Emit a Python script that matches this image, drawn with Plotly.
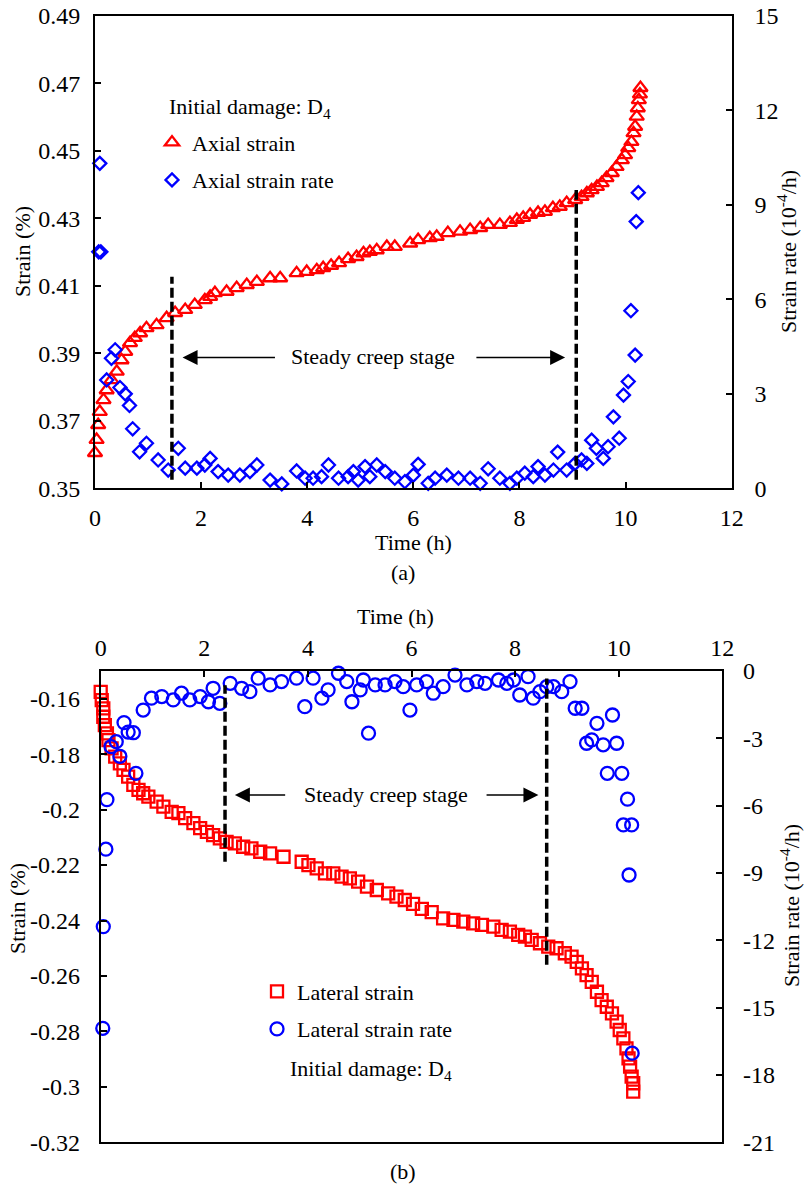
import plotly.graph_objects as go

W, H = 804, 1186
FONT = "Liberation Serif, Times New Roman, serif"

# ---------------- (a) axial creep ----------------
axial_time = [0.00, 0.03, 0.06, 0.09, 0.16, 0.22, 0.31, 0.41, 0.50, 0.57, 0.66, 0.75,
              0.85, 0.97, 1.16, 1.35, 1.51, 1.70, 1.88, 2.07, 2.17, 2.26, 2.48, 2.67,
              2.86, 3.05, 3.30, 3.49, 3.80, 3.99, 4.18, 4.30, 4.45, 4.60, 4.77, 4.93,
              5.06, 5.18, 5.31, 5.50, 5.65, 5.94, 6.09, 6.31, 6.44, 6.65, 6.88, 7.07,
              7.26, 7.41, 7.63, 7.82, 7.95, 8.07, 8.20, 8.35, 8.48, 8.63, 8.76, 8.89,
              9.05, 9.17, 9.27, 9.36, 9.46, 9.55, 9.64, 9.74, 9.83, 9.93, 9.99, 10.05,
              10.11, 10.15, 10.18, 10.21, 10.23, 10.25, 10.27, 10.28]
axial_strain = [0.3605, 0.3644, 0.3688, 0.3727, 0.3762, 0.3791, 0.3821, 0.3846, 0.3880,
                0.3905, 0.3931, 0.3946, 0.3960, 0.3975, 0.3984, 0.4005, 0.4020, 0.4029,
                0.4044, 0.4058, 0.4068, 0.4079, 0.4083, 0.4094, 0.4103, 0.4112, 0.4123,
                0.4123, 0.4138, 0.4142, 0.4147, 0.4153, 0.4160, 0.4168, 0.4180, 0.4186,
                0.4197, 0.4201, 0.4206, 0.4216, 0.4216, 0.4226, 0.4236, 0.4242, 0.4246,
                0.4257, 0.4261, 0.4266, 0.4272, 0.4281, 0.4281, 0.4287, 0.4296, 0.4302,
                0.4311, 0.4317, 0.4320, 0.4331, 0.4335, 0.4346, 0.4355, 0.4364, 0.4375,
                0.4384, 0.4394, 0.4405, 0.4420, 0.4435, 0.4453, 0.4473, 0.4488, 0.4509,
                0.4527, 0.4553, 0.4572, 0.4602, 0.4627, 0.4651, 0.4668, 0.4687]

axial_rate_time = [0.07, 0.09, 0.11, 0.22, 0.31, 0.38, 0.47, 0.57, 0.65, 0.71, 0.84, 0.97,
                   1.19, 1.38, 1.57, 1.70, 1.92, 2.07, 2.17, 2.32, 2.51, 2.73, 2.92, 3.05,
                   3.30, 3.52, 3.80, 3.96, 4.11, 4.27, 4.40, 4.59, 4.77, 4.87, 4.96, 5.09,
                   5.18, 5.31, 5.47, 5.65, 5.84, 6.00, 6.09, 6.28, 6.41, 6.63, 6.85, 7.07,
                   7.26, 7.41, 7.63, 7.82, 7.95, 8.10, 8.26, 8.35, 8.48, 8.64, 8.72, 8.89,
                   9.05, 9.17, 9.27, 9.36, 9.45, 9.58, 9.67, 9.77, 9.88, 9.96, 10.05, 10.10,
                   10.18, 10.20, 10.24]
axial_rate = [7.51, 10.32, 7.51, 3.44, 4.13, 4.40, 3.20, 3.00, 2.63, 1.89, 1.16, 1.43,
              0.90, 0.58, 1.27, 0.64, 0.64, 0.74, 0.95, 0.53, 0.42, 0.42, 0.53, 0.74,
              0.26, 0.14, 0.55, 0.32, 0.32, 0.37, 0.74, 0.32, 0.37, 0.53, 0.26, 0.69,
              0.37, 0.74, 0.53, 0.32, 0.21, 0.42, 0.76, 0.16, 0.32, 0.42, 0.32, 0.32,
              0.16, 0.62, 0.32, 0.16, 0.32, 0.48, 0.37, 0.69, 0.42, 0.58, 1.15, 0.58,
              0.79, 0.90, 0.79, 1.53, 1.27, 0.95, 1.32, 2.27, 1.59, 2.96, 3.39, 5.64,
              4.23, 8.47, 9.39]

# ---------------- (b) lateral creep ----------------
lateral_time = [0.00, 0.02, 0.05, 0.05, 0.08, 0.12, 0.15, 0.21, 0.28, 0.37, 0.44, 0.53,
                0.63, 0.73, 0.82, 0.92, 1.08, 1.21, 1.37, 1.50, 1.63, 1.79, 1.92, 2.05,
                2.17, 2.30, 2.43, 2.59, 2.75, 2.91, 3.08, 3.27, 3.53, 3.88, 4.01, 4.17,
                4.33, 4.49, 4.65, 4.81, 4.97, 5.14, 5.33, 5.55, 5.71, 5.87, 6.03, 6.20,
                6.39, 6.61, 6.81, 7.00, 7.19, 7.36, 7.58, 7.74, 7.90, 8.06, 8.19, 8.32,
                8.48, 8.64, 8.80, 8.96, 9.09, 9.19, 9.29, 9.38, 9.48, 9.58, 9.67, 9.77,
                9.87, 9.96, 10.02, 10.09, 10.15, 10.19, 10.22, 10.25, 10.28, 10.28]
lateral_strain = [-0.1575, -0.1605, -0.1635, -0.1665, -0.1695, -0.1725, -0.1749, -0.1779,
                  -0.1809, -0.1833, -0.1857, -0.1881, -0.1911, -0.1929, -0.1941, -0.1953,
                  -0.1971, -0.1989, -0.2008, -0.2013, -0.2031, -0.2049, -0.2067, -0.2080,
                  -0.2092, -0.2104, -0.2116, -0.2122, -0.2134, -0.2140, -0.2152, -0.2158,
                  -0.2170, -0.2188, -0.2200, -0.2212, -0.2230, -0.2230, -0.2242, -0.2248,
                  -0.2260, -0.2278, -0.2290, -0.2302, -0.2314, -0.2326, -0.2340, -0.2358,
                  -0.2370, -0.2392, -0.2398, -0.2404, -0.2410, -0.2416, -0.2422, -0.2434,
                  -0.2440, -0.2452, -0.2458, -0.2470, -0.2482, -0.2494, -0.2500, -0.2518,
                  -0.2530, -0.2549, -0.2573, -0.2597, -0.2621, -0.2657, -0.2687, -0.2711,
                  -0.2735, -0.2765, -0.2795, -0.2825, -0.2861, -0.2897, -0.2927, -0.2963,
                  -0.2987, -0.3017]

lateral_rate_time = [0.04, 0.05, 0.10, 0.12, 0.20, 0.30, 0.37, 0.45, 0.53, 0.63, 0.68, 0.82,
                     0.98, 1.18, 1.40, 1.56, 1.72, 1.92, 2.08, 2.17, 2.30, 2.50, 2.72, 2.88,
                     3.04, 3.27, 3.49, 3.78, 3.94, 4.10, 4.27, 4.39, 4.59, 4.75, 4.85, 5.01,
                     5.07, 5.17, 5.30, 5.49, 5.68, 5.84, 5.97, 6.10, 6.29, 6.42, 6.61, 6.84,
                     7.07, 7.26, 7.42, 7.68, 7.84, 7.97, 8.09, 8.25, 8.35, 8.48, 8.61, 8.74,
                     8.90, 9.06, 9.16, 9.29, 9.38, 9.48, 9.58, 9.70, 9.78, 9.88, 9.96, 10.06,
                     10.09, 10.17, 10.20, 10.25, 10.26]
lateral_rate = [-15.92, -11.39, -7.94, -5.73, -3.37, -3.15, -3.80, -2.30, -2.72, -2.75, -4.56,
                -1.74, -1.21, -1.14, -1.29, -0.99, -1.29, -1.14, -1.37, -0.77, -1.44, -0.55,
                -0.77, -0.92, -0.32, -0.62, -0.47, -0.32, -1.59, -0.32, -1.21, -0.84, -0.10,
                -0.47, -1.37, -0.84, -0.40, -2.77, -0.62, -0.62, -0.47, -0.70, -1.74, -0.62,
                -0.47, -0.99, -0.70, -0.18, -0.62, -0.47, -0.55, -0.40, -0.55, -0.40, -1.07,
                -0.25, -1.21, -0.92, -0.70, -0.70, -0.92, -0.47, -1.66, -1.66, -3.22, -3.07,
                -2.33, -3.29, -4.56, -1.96, -3.22, -4.56, -6.86, -5.71, -9.09, -6.86, -17.03]

# steady creep stage boundaries (h)
steady_a = [1.45, 9.07]
steady_b = [2.40, 8.61]

# axis ticks
time_ticks = [0, 2, 4, 6, 8, 10, 12]
strain_ticks_a = [0.35, 0.37, 0.39, 0.41, 0.43, 0.45, 0.47, 0.49]
strain_labels_a = ["0.35", "0.37", "0.39", "0.41", "0.43", "0.45", "0.47", "0.49"]
rate_ticks_a = [0, 3, 6, 9, 12, 15]
strain_ticks_b = [-0.32, -0.30, -0.28, -0.26, -0.24, -0.22, -0.20, -0.18, -0.16]
strain_labels_b = ["-0.32", "-0.3", "-0.28", "-0.26", "-0.24", "-0.22", "-0.2", "-0.18", "-0.16"]
rate_ticks_b = [0, -3, -6, -9, -12, -15, -18, -21]
rate_labels_b = ["0", "-3", "-6", "-9", "-12", "-15", "-18", "-21"]

RED = "#FF0000"
BLUE = "#0000FF"
MLW = 2.3  # marker outline width


def fx(p):
    return p / W


def fy(p):
    return 1 - p / H


fig = go.Figure()

fig.add_trace(go.Scatter(
    x=axial_time, y=axial_strain, mode="markers", name="Axial strain",
    xaxis="x", yaxis="y", legend="legend", legendgroup="a1", cliponaxis=False,
    marker=dict(symbol="triangle-up-open", size=12.5, color=RED, line=dict(width=MLW, color=RED))))
fig.add_trace(go.Scatter(
    x=axial_rate_time, y=axial_rate, mode="markers", name="Axial strain rate",
    xaxis="x", yaxis="y2", legend="legend", legendgroup="a2", cliponaxis=False,
    marker=dict(symbol="diamond-open", size=10, color=BLUE, line=dict(width=MLW, color=BLUE))))
fig.add_trace(go.Scatter(
    x=lateral_time, y=lateral_strain, mode="markers", name="Lateral strain",
    xaxis="x2", yaxis="y3", legend="legend2", legendgroup="b1", cliponaxis=False,
    marker=dict(symbol="square-open", size=12, color=RED, line=dict(width=MLW, color=RED))))
fig.add_trace(go.Scatter(
    x=lateral_rate_time, y=lateral_rate, mode="markers", name="Lateral strain rate",
    xaxis="x2", yaxis="y4", legend="legend2", legendgroup="b2", cliponaxis=False,
    marker=dict(symbol="circle-open", size=13, color=BLUE, line=dict(width=MLW, color=BLUE))))

axis_common = dict(showline=True, linecolor="black", linewidth=2, showgrid=False,
                   zeroline=False, ticks="inside", ticklen=6, tickwidth=2, tickcolor="black",
                   tickfont=dict(family=FONT, size=24, color="black"), fixedrange=True,
                   automargin=False)

dom_xa = [fx(95), fx(731.7)]
dom_ya = [fy(488.3), fy(16)]
dom_xb = [fx(100.7), fx(722.3)]
dom_yb = [fy(1142.3), fy(671)]

fig.update_layout(
    width=W, height=H, autosize=False,
    margin=dict(l=0, r=0, t=0, b=0, autoexpand=False),
    paper_bgcolor="white", plot_bgcolor="white",
    font=dict(family=FONT, size=22, color="black"),
    xaxis=dict(axis_common, domain=dom_xa, anchor="y", range=[0, 12],
               tickvals=time_ticks, ticktext=[str(t) for t in time_ticks],
               mirror=True, ticklabelstandoff=7),
    yaxis=dict(axis_common, domain=dom_ya, anchor="x", range=[0.35, 0.49],
               tickvals=strain_ticks_a, ticktext=strain_labels_a, ticklabelstandoff=8),
    yaxis2=dict(axis_common, domain=dom_ya, anchor="x", overlaying="y", side="right",
                range=[0, 15], tickvals=rate_ticks_a, ticktext=[str(v) for v in rate_ticks_a],
                ticklabelstandoff=16),
    xaxis2=dict(axis_common, domain=dom_xb, anchor="y3", side="top", range=[0, 12],
                tickvals=time_ticks, ticktext=[str(t) for t in time_ticks],
                mirror=True, ticklabelstandoff=3),
    yaxis3=dict(axis_common, domain=dom_yb, anchor="x2", range=[-0.32, -0.15],
                tickvals=strain_ticks_b, ticktext=strain_labels_b, ticklabelstandoff=14),
    yaxis4=dict(axis_common, domain=dom_yb, anchor="x2", overlaying="y3", side="right",
                range=[-21, 0], tickvals=rate_ticks_b, ticktext=rate_labels_b,
                ticklabelstandoff=14),
    legend=dict(x=fx(152), y=fy(121.5), xanchor="left", yanchor="top",
                bgcolor="rgba(0,0,0,0)", borderwidth=0, tracegroupgap=6,
                font=dict(family=FONT, size=22, color="black")),
    legend2=dict(x=fx(257), y=fy(970.5), xanchor="left", yanchor="top",
                 bgcolor="rgba(0,0,0,0)", borderwidth=0, tracegroupgap=6,
                 font=dict(family=FONT, size=22, color="black")),
    showlegend=True,
)

# dashed boundaries of the steady creep stage
dash = dict(color="black", width=3.5, dash="10px,4px")
shapes = [
    dict(type="line", xref="x", yref="y", x0=steady_a[0], x1=steady_a[0],
         y0=0.3525, y1=0.4127, line=dash),
    dict(type="line", xref="x", yref="y", x0=steady_a[1], x1=steady_a[1],
         y0=0.3525, y1=0.4384, line=dash),
    dict(type="line", xref="x2", yref="y3", x0=steady_b[0], x1=steady_b[0],
         y0=-0.2188, y1=-0.1551, line=dash),
    dict(type="line", xref="x2", yref="y3", x0=steady_b[1], x1=steady_b[1],
         y0=-0.2560, y1=-0.1527, line=dash),
]
fig.update_layout(shapes=shapes)

arrow = dict(showarrow=True, arrowhead=2, arrowsize=2, arrowwidth=1.5, arrowcolor="black",
             text="", standoff=0, startstandoff=0)
ann = [
    # stage arrows (a)
    dict(arrow, xref="x", yref="y", x=1.65, y=0.3888, axref="x", ayref="y", ax=3.42, ay=0.3888),
    dict(arrow, xref="x", yref="y", x=8.86, y=0.3888, axref="x", ayref="y", ax=7.16, ay=0.3888),
    dict(xref="x", yref="y", x=5.24, y=0.3890, text="Steady creep stage", showarrow=False,
         xanchor="center", yanchor="middle"),
    # stage arrows (b)
    dict(arrow, xref="x2", yref="y3", x=2.59, y=-0.1947, axref="x2", ayref="y3", ax=3.59, ay=-0.1947),
    dict(arrow, xref="x2", yref="y3", x=8.45, y=-0.1947, axref="x2", ayref="y3", ax=7.42, ay=-0.1947),
    dict(xref="x2", yref="y3", x=5.51, y=-0.1947, text="Steady creep stage", showarrow=False,
         xanchor="center", yanchor="middle"),
    # damage labels
    dict(xref="paper", yref="paper", x=fx(167), y=fy(108), text="Initial damage: D<sub>4</sub>",
         showarrow=False, xanchor="left", yanchor="middle"),
    dict(xref="paper", yref="paper", x=fx(288), y=fy(1070), text="Initial damage: D<sub>4</sub>",
         showarrow=False, xanchor="left", yanchor="middle"),
    # axis titles (a)
    dict(xref="paper", yref="paper", x=fx(413), y=fy(542), text="Time (h)",
         showarrow=False, xanchor="center", yanchor="middle"),
    dict(xref="paper", yref="paper", x=fx(22), y=fy(252), text="Strain (%)", textangle=-90,
         showarrow=False, xanchor="center", yanchor="middle"),
    dict(xref="paper", yref="paper", x=fx(787), y=fy(252), text="Strain rate (10<sup>-4</sup>/h)",
         textangle=-90, showarrow=False, xanchor="center", yanchor="middle"),
    dict(xref="paper", yref="paper", x=fx(403), y=fy(572), text="(a)",
         showarrow=False, xanchor="center", yanchor="middle"),
    # axis titles (b)
    dict(xref="paper", yref="paper", x=fx(395), y=fy(616), text="Time (h)",
         showarrow=False, xanchor="center", yanchor="middle"),
    dict(xref="paper", yref="paper", x=fx(17), y=fy(909), text="Strain (%)", textangle=-90,
         showarrow=False, xanchor="center", yanchor="middle"),
    dict(xref="paper", yref="paper", x=fx(790), y=fy(906), text="Strain rate (10<sup>-4</sup>/h)",
         textangle=-90, showarrow=False, xanchor="center", yanchor="middle"),
    dict(xref="paper", yref="paper", x=fx(403), y=fy(1171), text="(b)",
         showarrow=False, xanchor="center", yanchor="middle"),
]
fig.update_layout(annotations=ann)

fig.write_html("out.html", config={"displayModeBar": False})
